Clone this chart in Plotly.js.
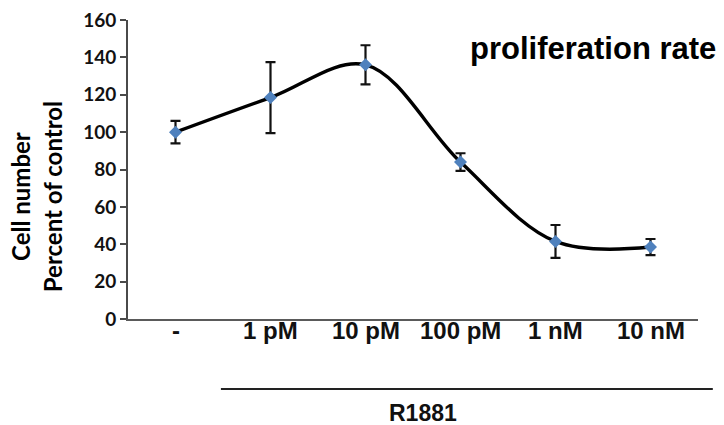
<!DOCTYPE html>
<html>
<head>
<meta charset="utf-8">
<script src="https://cdn.plot.ly/plotly-3.0.1.min.js"></script>
<style>html,body{margin:0;padding:0;background:#fff;}#chart{width:724px;height:425px;}</style>
</head>
<body>
<div id="chart"></div>
<script>
// Data
const categories = ["-", "1 pM", "10 pM", "100 pM", "1 nM", "10 nM"];
const cellNumber = [100, 118.5, 136, 84, 41.5, 38.5];
const errorValues = [6, 19, 10.5, 4.7, 8.8, 4.3];
const yTicks = [0, 20, 40, 60, 80, 100, 120, 140, 160];
const groupLabel = "R1881";
const chartTitle = "proliferation rate";
const yTitleLines = ["Cell number", "Percent of control"];

const trace = {
  x: categories,
  y: cellNumber,
  type: "scatter",
  mode: "lines+markers",
  line: {color: "#000000", width: 3.4, shape: "spline", smoothing: 1},
  marker: {symbol: "diamond", size: 10, color: "#4F81BD"},
  error_y: {type: "data", array: errorValues, visible: true, color: "#111111", thickness: 2.2, width: 5},
  hoverinfo: "skip"
};

const xLabelFont = {family: "Liberation Sans, Arial, sans-serif", size: 24, color: "#111111", weight: "bold"};

// category tick labels placed through the x axis scale, just under the axis line
const xLabelAnnotations = categories.map(c => ({
  text: c, xref: "x", yref: "paper", x: c, y: -0.037, showarrow: false,
  xanchor: "center", yanchor: "middle", font: xLabelFont
}));

const layout = {
  width: 724,
  height: 425,
  margin: {l: 128, r: 26, t: 20, b: 106},
  paper_bgcolor: "#ffffff",
  plot_bgcolor: "#ffffff",
  showlegend: false,
  xaxis: {
    type: "category",
    range: [-0.5, 5.5],
    showline: true,
    linecolor: "#5a5a5a",
    linewidth: 2,
    ticks: "",
    showticklabels: false,
    showgrid: false,
    zeroline: false,
    fixedrange: true
  },
  yaxis: {
    range: [0, 160],
    tickvals: yTicks,
    ticktext: yTicks.map(String),
    showline: true,
    linecolor: "#4a4a4a",
    linewidth: 2,
    ticks: "outside",
    ticklen: 6,
    tickwidth: 2,
    tickcolor: "#4a4a4a",
    showgrid: false,
    zeroline: false,
    tickfont: {family: "Lato, Open Sans, sans-serif", size: 19, color: "#111111", weight: "bold"},
    fixedrange: true
  },
  shapes: [
    {type: "line", xref: "paper", yref: "paper", x0: 0.163, x1: 1.026, y0: -0.234, y1: -0.234,
     line: {color: "#222222", width: 2}}
  ],
  annotations: xLabelAnnotations.concat([
    {text: chartTitle, xref: "paper", yref: "paper", x: 0.816, y: 0.906, showarrow: false,
     xanchor: "center", yanchor: "middle",
     font: {family: "Liberation Sans, Arial, sans-serif", size: 31, color: "#000000", weight: "bold"}},
    {text: groupLabel, xref: "paper", yref: "paper", x: 0.5175, y: -0.316, showarrow: false,
     xanchor: "center", yanchor: "middle",
     font: {family: "Liberation Sans, Arial, sans-serif", size: 23, color: "#111111", weight: "bold"}},
    {text: yTitleLines.join("<br>"), xref: "paper", yref: "paper", x: -0.16, y: 0.41, showarrow: false,
     textangle: -90, xanchor: "center", yanchor: "middle",
     font: {family: "Lato, Open Sans, sans-serif", size: 24, color: "#000000", weight: "bold"}}
  ])
};

Plotly.newPlot("chart", [trace], layout, {displayModeBar: false, staticPlot: true});
</script>
</body>
</html>
